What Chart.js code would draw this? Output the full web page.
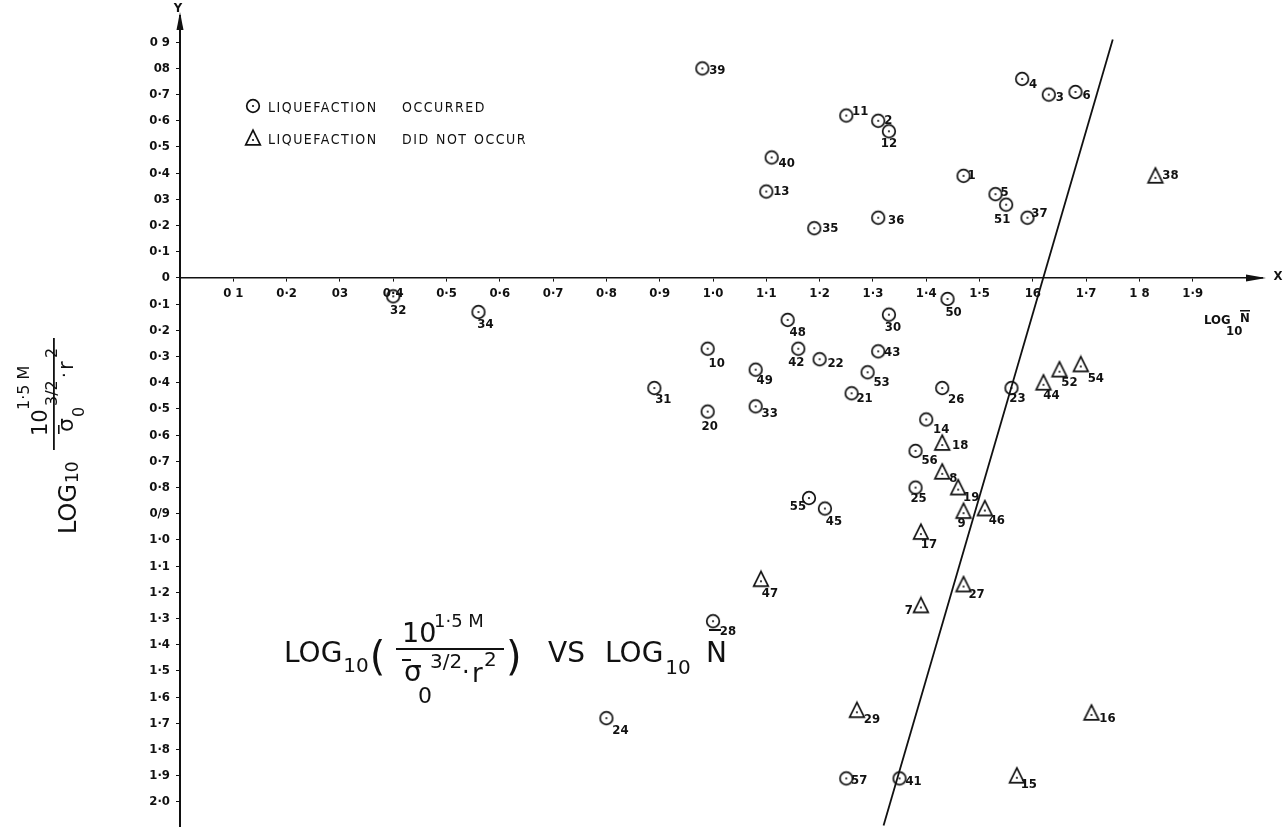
<!DOCTYPE html>
<html>
<head>
<meta charset="utf-8">
<title>LOG10 vs LOG10 N</title>
<script src="https://cdn.jsdelivr.net/npm/chart.js@4/dist/chart.umd.min.js"></script>
<style>
  html, body { margin: 0; padding: 0; background: #fff; }
  #c { display: block; }
</style>
</head>
<body>
<canvas id="c" width="1286" height="827"></canvas>
<script>
// ---- site data: LOG10 N (x) and LOG10(10^1.5M / sigma0^3/2 . r^2) (y) ----
const occurredIds  = [39, 4, 3, 6, 11, 2, 12, 40, 13, 1, 5, 51, 37, 36, 35, 32, 34, 50, 48, 30, 10, 42, 22, 43, 49, 53, 31, 21, 26, 23, 20, 33, 14, 56, 25, 55, 45, 28, 24, 57, 41];
const occurredLogN = [0.98, 1.58, 1.63, 1.68, 1.25, 1.31, 1.33, 1.11, 1.10, 1.47, 1.53, 1.55, 1.59, 1.31, 1.19, 0.40, 0.56, 1.44, 1.14, 1.33, 0.99, 1.16, 1.20, 1.31, 1.08, 1.29, 0.89, 1.26, 1.43, 1.56, 0.99, 1.08, 1.40, 1.38, 1.38, 1.18, 1.21, 1.00, 0.80, 1.25, 1.35];
const occurredLogQ = [0.80, 0.76, 0.70, 0.71, 0.62, 0.60, 0.56, 0.46, 0.33, 0.39, 0.32, 0.28, 0.23, 0.23, 0.19, -0.07, -0.13, -0.08, -0.16, -0.14, -0.27, -0.27, -0.31, -0.28, -0.35, -0.36, -0.42, -0.44, -0.42, -0.42, -0.51, -0.49, -0.54, -0.66, -0.80, -0.84, -0.88, -1.31, -1.68, -1.91, -1.91];

const notOccurredIds  = [38, 54, 52, 44, 18, 8, 19, 9, 46, 17, 47, 27, 7, 29, 16, 15];
const notOccurredLogN = [1.83, 1.69, 1.65, 1.62, 1.43, 1.43, 1.46, 1.47, 1.51, 1.39, 1.09, 1.47, 1.39, 1.27, 1.71, 1.57];
const notOccurredLogQ = [0.39, -0.33, -0.35, -0.40, -0.63, -0.74, -0.80, -0.89, -0.88, -0.97, -1.15, -1.17, -1.25, -1.65, -1.66, -1.90];

// boundary line between the two groups
const boundaryLogN = [1.75, 1.32];
const boundaryLogQ = [0.91, -2.09];

// axis ticks
const xTickValues = [0.1, 0.2, 0.3, 0.4, 0.5, 0.6, 0.7, 0.8, 0.9, 1.0, 1.1, 1.2, 1.3, 1.4, 1.5, 1.6, 1.7, 1.8, 1.9];
const xTickLabels = ['0 1', '0·2', '03', '0·4', '0·5', '0·6', '0·7', '0·8', '0·9', '1·0', '1·1', '1·2', '1·3', '1·4', '1·5', '16', '1·7', '1 8', '1·9'];
const yTickValues = [0.9, 0.8, 0.7, 0.6, 0.5, 0.4, 0.3, 0.2, 0.1, 0,
  -0.1, -0.2, -0.3, -0.4, -0.5, -0.6, -0.7, -0.8, -0.9, -1.0,
  -1.1, -1.2, -1.3, -1.4, -1.5, -1.6, -1.7, -1.8, -1.9, -2.0];
const yTickLabels = ['0 9', '08', '0·7', '0·6', '0·5', '0·4', '03', '0·2', '0·1', '0',
  '0·1', '0·2', '0·3', '0·4', '0·5', '0·6', '0·7', '0·8', '0/9', '1·0',
  '1·1', '1·2', '1·3', '1·4', '1·5', '1·6', '1·7', '1·8', '1·9', '2·0'];

const legendLabels = ['LIQUEFACTION', 'OCCURRED', 'DID', 'NOT', 'OCCUR'];

// where each point number sits relative to its marker (px)
const occurredLabelOffset = {39:[15,2],4:[11,6],3:[11,3],6:[11,4],11:[14,-4],2:[10,0],12:[0,12],40:[15,6],13:[15,0],1:[8,0],5:[9,-2],51:[-4,15],37:[12,-4],36:[18,3],35:[16,0],32:[5,14],34:[7,13],50:[6,14],48:[10,13],30:[4,13],10:[9,15],42:[-2,14],22:[16,4],43:[14,1],49:[9,11],53:[14,10],31:[9,12],21:[13,5],26:[14,12],23:[6,11],20:[2,15],33:[14,7],14:[15,10],56:[14,10],25:[3,11],55:[-11,9],45:[9,13],28:[15,10],24:[14,12],57:[13,2],41:[14,3]};
const notOccurredLabelOffset = {38:[15,0],54:[15,14],52:[10,13],44:[8,13],18:[18,3],8:[11,7],19:[13,10],9:[-2,12],46:[12,12],17:[8,13],47:[9,14],27:[13,10],7:[-12,5],29:[15,9],16:[16,6],15:[12,9]};

const INK = '#111';
const SMALL = '"DejaVu Sans Condensed", "DejaVu Sans", sans-serif';
const BIG = '"DejaVu Sans", sans-serif';

// marker glyphs: dotted circle and dotted triangle
function makeMarker(kind) {
  const s = 20, c = document.createElement('canvas');
  c.width = s; c.height = s;
  const g = c.getContext('2d');
  g.strokeStyle = INK; g.fillStyle = INK; g.lineWidth = 1.7;
  g.beginPath();
  if (kind === 'circle') {
    g.arc(10, 10, 6.3, 0, Math.PI * 2);
  } else {
    g.moveTo(10, 2.2); g.lineTo(17.3, 16.8); g.lineTo(2.7, 16.8); g.closePath();
  }
  g.stroke();
  g.beginPath();
  g.arc(10, kind === 'circle' ? 10 : 12, 1.1, 0, Math.PI * 2);
  g.fill();
  return c;
}
const circleMark = makeMarker('circle');
const triangleMark = makeMarker('triangle');

function toPoints(xs, ys) { return xs.map((x, i) => ({ x: x, y: ys[i] })); }

function piece(ctx, s, x, y, size, family) {
  ctx.font = size + 'px ' + (family || BIG);
  ctx.fillText(s, x, y);
  return x + ctx.measureText(s).width;
}

const annotations = {
  id: 'annotations',
  afterDraw(chart) {
    const ctx = chart.ctx;
    const xs = chart.scales.x, ys = chart.scales.y;
    ctx.save();
    ctx.fillStyle = INK; ctx.strokeStyle = INK;

    // point numbers
    ctx.font = 'bold 13px ' + SMALL;
    ctx.textAlign = 'center'; ctx.textBaseline = 'middle';
    [[0, occurredIds, occurredLabelOffset], [1, notOccurredIds, notOccurredLabelOffset]].forEach(([di, ids, offs]) => {
      chart.getDatasetMeta(di).data.forEach((el, i) => {
        const o = offs[ids[i]] || [12, 4];
        ctx.fillText(String(ids[i]), el.x + o[0], el.y + o[1]);
      });
    });

    // arrow heads on the axes
    const x0 = xs.getPixelForValue(0), y0 = ys.getPixelForValue(0);
    const xEnd = xs.right, yTop = ys.top;
    ctx.beginPath();
    ctx.moveTo(xEnd + 4, y0); ctx.lineTo(xEnd - 16, y0 - 3.5); ctx.lineTo(xEnd - 16, y0 + 3.5); ctx.closePath(); ctx.fill();
    ctx.beginPath();
    ctx.moveTo(x0, yTop - 4); ctx.lineTo(x0 - 3.5, yTop + 14); ctx.lineTo(x0 + 3.5, yTop + 14); ctx.closePath(); ctx.fill();
    // let the vertical axis run on to the bottom edge
    ctx.fillRect(x0 - 1, ys.bottom, 2, chart.height - ys.bottom);

    ctx.font = 'bold 13px ' + SMALL;
    ctx.fillText('X', xEnd + 16, y0 - 1);
    ctx.fillText('Y', x0 - 2, yTop - 7);

    // x axis name: LOG10 N-bar
    ctx.textAlign = 'left'; ctx.textBaseline = 'alphabetic';
    ctx.font = 'bold 13px ' + SMALL;
    ctx.fillText('LOG', 1204, 324);
    ctx.fillText('N', 1240, 322);
    ctx.fillRect(1240, 310, 10, 1.5);
    ctx.fillText('10', 1226, 335);

    // legend
    ctx.drawImage(circleMark, 243, 96);
    ctx.drawImage(triangleMark, 243, 128);
    ctx.font = '14px ' + SMALL;
    ctx.letterSpacing = '1.5px';
    ctx.fillText(legendLabels[0], 268, 112);
    ctx.fillText(legendLabels[1], 402, 112);
    ctx.fillText(legendLabels[0], 268, 144);
    ctx.fillText(legendLabels[2], 402, 144);
    ctx.fillText(legendLabels[3], 436, 144);
    ctx.fillText(legendLabels[4], 474, 144);
    ctx.letterSpacing = '0px';

    // formula heading
    let x = piece(ctx, 'LOG', 284, 662, 28);
    x = piece(ctx, '10', x + 1, 672, 20);
    piece(ctx, '(', x + 1, 670, 40);
    piece(ctx, '10', 402, 642, 27);
    piece(ctx, '1·5 M', 434, 627, 18);
    ctx.fillRect(396, 648, 108, 2);
    piece(ctx, 'σ', 404, 681, 28);
    ctx.fillRect(402, 659, 9, 2);
    piece(ctx, '0', 418, 703, 22);
    piece(ctx, '3/2', 430, 668, 20);
    piece(ctx, '·', 462, 680, 24);
    piece(ctx, 'r', 472, 682, 26);
    piece(ctx, '2', 484, 666, 20);
    piece(ctx, ')', 506, 670, 40);
    piece(ctx, 'VS', 548, 662, 28);
    x = piece(ctx, 'LOG', 605, 662, 28);
    piece(ctx, '10', x + 2, 674, 20);
    piece(ctx, 'N', 706, 662, 28);
    ctx.fillRect(709, 629, 12, 2);

    // vertical axis name (reads bottom to top)
    ctx.save();
    ctx.translate(76, 534);
    ctx.rotate(-Math.PI / 2);
    let u = piece(ctx, 'LOG', 0, 0, 24);
    piece(ctx, '10', u + 1, 2, 17);
    ctx.fillRect(84, -23, 112, 1.8);
    piece(ctx, '10', 98, -29, 21);
    piece(ctx, '1·5 M', 124, -47, 16);
    piece(ctx, 'σ', 102, -3, 22);
    ctx.fillRect(100, -18, 9, 1.6);
    piece(ctx, '0', 117, 8, 16);
    piece(ctx, '3/2', 128, -19, 16);
    piece(ctx, '·', 156, -6, 18);
    piece(ctx, 'r', 164, -3, 21);
    piece(ctx, '2', 176, -19, 16);
    ctx.restore();

    ctx.restore();
  }
};

new Chart(document.getElementById('c'), {
  type: 'scatter',
  data: {
    datasets: [
      { label: 'LIQUEFACTION OCCURRED', data: toPoints(occurredLogN, occurredLogQ),
        pointStyle: circleMark, pointRadius: 7, showLine: false },
      { label: 'LIQUEFACTION DID NOT OCCUR', data: toPoints(notOccurredLogN, notOccurredLogQ),
        pointStyle: triangleMark, pointRadius: 7, showLine: false },
      { label: 'boundary', type: 'line', data: toPoints(boundaryLogN, boundaryLogQ),
        showLine: true, borderColor: INK, borderWidth: 1.8, pointRadius: 0, fill: false, clip: false }
    ]
  },
  options: {
    responsive: false,
    animation: false,
    devicePixelRatio: 1,
    layout: { padding: { top: 16, right: 24, bottom: 0, left: 0 } },
    plugins: { legend: { display: false }, tooltip: { enabled: false }, title: { display: false } },
    scales: {
      x: {
        type: 'linear', min: 0, max: 2.03,
        position: { y: 0 },
        afterFit: (s) => { s.paddingLeft = 0; s.paddingRight = 0; s.paddingTop = 0; s.paddingBottom = 0; },
        afterBuildTicks: (s) => { s.ticks = xTickValues.map(v => ({ value: v })); },
        ticks: {
          autoSkip: false, maxRotation: 0, padding: 5, color: INK,
          font: { family: SMALL, size: 13, weight: 'bold' },
          callback: (v, i) => xTickLabels[i]
        },
        grid: { drawOnChartArea: false, drawTicks: true, tickLength: 3, color: INK, lineWidth: 1 },
        border: { display: true, color: INK, width: 1.6 }
      },
      y: {
        type: 'linear', min: -2.065, max: 1.0,
        position: 'left',
        afterFit: (s) => { s.width = 180; s.paddingTop = 0; s.paddingBottom = 0; s.paddingLeft = 0; s.paddingRight = 0; },
        afterBuildTicks: (s) => { s.ticks = yTickValues.map(v => ({ value: v })); },
        ticks: {
          autoSkip: false, padding: 6, color: INK,
          font: { family: SMALL, size: 13, weight: 'bold' },
          callback: (v, i) => yTickLabels[i]
        },
        grid: { drawOnChartArea: false, drawTicks: true, tickLength: 4, color: INK, lineWidth: 1 },
        border: { display: true, color: INK, width: 2 }
      }
    }
  },
  plugins: [annotations]
});
</script>
</body>
</html>
